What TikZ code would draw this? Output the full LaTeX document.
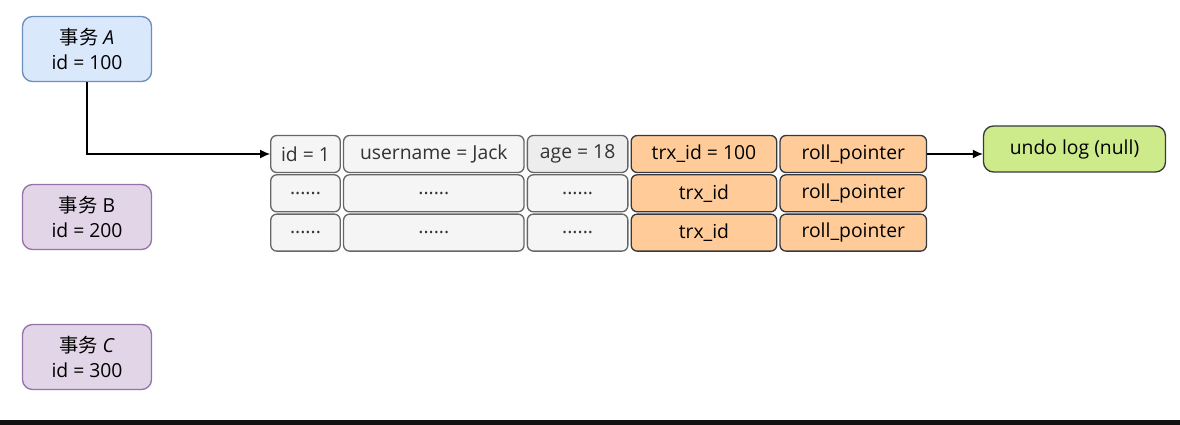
\documentclass[tikz,border=0pt]{standalone}
\usepackage{fontspec}
\setmainfont{Open Sans}
\newfontfamily\cjk{Noto Sans CJK SC}
\usepackage{tikz}
\usetikzlibrary{arrows.meta,positioning}
\definecolor{blfill}{HTML}{DAE8FC}
\definecolor{bldraw}{HTML}{6C8EBF}
\definecolor{pufill}{HTML}{E1D5E7}
\definecolor{pudraw}{HTML}{9673A6}
\definecolor{grfill}{HTML}{F5F5F5}
\definecolor{grdraw}{HTML}{666666}
\definecolor{grtext}{HTML}{333333}
\definecolor{orfill}{HTML}{FFCC99}
\definecolor{dkdraw}{HTML}{36393D}
\definecolor{lmfill}{HTML}{CDEB8B}
\tikzstyle{trx} = [rectangle,rounded corners=0.2cm,line width=0.75pt,minimum width=2.58cm,minimum height=1.3cm,align=center,inner sep=0]
\tikzstyle{cell} = [rectangle,rounded corners=0.12cm,line width=0.75pt,minimum height=0.74cm,inner sep=0]
\tikzstyle{plain} = [cell,fill=grfill,draw=grdraw,text=grtext]
\tikzstyle{hidden} = [cell,fill=orfill,draw=dkdraw]

\begin{document}
\begin{tikzpicture}[font=\fontsize{11}{14}\selectfont]
	\useasboundingbox (0,0) rectangle (23.6,-8.5);
	\fill[black!93] (0,-8.4) rectangle (23.6,-8.5);
	\begin{scope}[node distance=0.04cm,>={Latex[length=2mm,width=1.8mm]}]
		\node[trx,fill=blfill,draw=bldraw] (txa) at (1.74,-0.98) {{\cjk 事务} \textit{A}\\id = 100};
		\node[trx,fill=pufill,draw=pudraw] (txb) at (1.74,-4.34) {{\cjk 事务} B\\id = 200};
		\node[trx,fill=pufill,draw=pudraw] (txc) at (1.74,-7.14) {{\cjk 事务} \textit{C}\\id = 300};

		% first row
		\node[plain,minimum width=1.39cm] (id1) at (6.11,-3.08) {id = 1};
		\node[plain,minimum width=3.61cm] (name1) [right=of id1] {username = Jack};
		\node[plain,minimum width=2.01cm,fill=black!7] (age1) [right=of name1] {age = 18};
		\node[hidden,minimum width=2.91cm] (trx1) [right=of age1] {trx\_id = 100};
		\node[hidden,minimum width=2.93cm] (roll1) [right=of trx1] {roll\_pointer};

		% second row
		\node[plain,minimum width=1.39cm,node distance=0.02cm] (id2) [below=of id1] {......};
		\node[plain,minimum width=3.61cm] (name2) [right=of id2] {......};
		\node[plain,minimum width=2.01cm] (age2) [right=of name2] {......};
		\node[hidden,minimum width=2.91cm] (trx2) [right=of age2] {trx\_id};
		\node[hidden,minimum width=2.93cm] (roll2) [right=of trx2] {roll\_pointer};

		% third row
		\node[plain,minimum width=1.39cm,node distance=0.02cm] (id3) [below=of id2] {......};
		\node[plain,minimum width=3.61cm] (name3) [right=of id3] {......};
		\node[plain,minimum width=2.01cm] (age3) [right=of name3] {......};
		\node[hidden,minimum width=2.91cm] (trx3) [right=of age3] {trx\_id};
		\node[hidden,minimum width=2.93cm] (roll3) [right=of trx3] {roll\_pointer};

		\node[cell,rounded corners=0.2cm,fill=lmfill,draw=dkdraw,minimum width=3.64cm,minimum height=0.92cm] (undo) at (21.49,-2.98) {undo log (null)};

		\draw[->,line width=0.8pt] (txa) |- (id1);
		\draw[->,line width=0.8pt] (roll1) -- (undo.west |- roll1.east);
	\end{scope}
\end{tikzpicture}
\end{document}
